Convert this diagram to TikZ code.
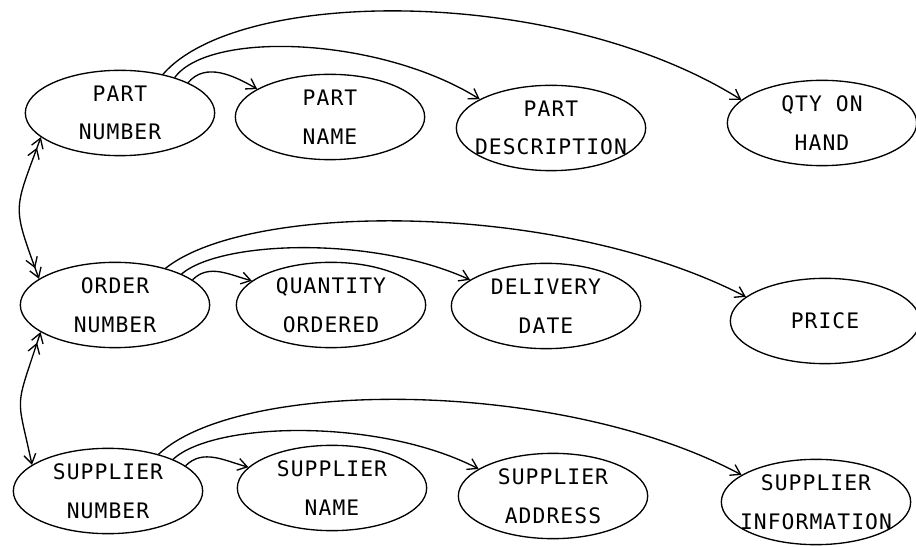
\documentclass[tikz,border=0pt]{standalone}
\usepackage{fontspec}
\newfontfamily\typefont[LetterSpace=5]{DejaVu Sans Mono}
\usetikzlibrary{arrows.meta,shapes.geometric}

\begin{document}
\begin{tikzpicture}[x=0.75pt,y=0.75pt,>={Straight Barb[length=7pt,width=9pt]},
  attr/.style={ellipse,draw,line width=1pt,minimum width=142pt,minimum height=64pt,inner xsep=-14pt,inner ysep=-6pt,align=center,font=\typefont\fontsize{16}{29}\selectfont},
  link/.style={line width=1pt,->}]
\useasboundingbox (0,0) rectangle (916,546);
% parts
\node[attr] (pnum) at (120,433) {PART\\NUMBER};
\node[attr] (pname) at (330,429) {PART\\NAME};
\node[attr] (pdesc) at (551,418) {PART\\DESCRIPTION};
\node[attr] (pqty) at (822,423) {QTY ON\\HAND};
% orders
\node[attr] (onum) at (115,241) {ORDER\\NUMBER};
\node[attr] (oqty) at (331,241) {QUANTITY\\ORDERED};
\node[attr] (odate) at (546,240) {DELIVERY\\DATE};
\node[attr] (oprice) at (825,225) {PRICE};
% suppliers
\node[attr] (snum) at (108,55) {SUPPLIER\\NUMBER};
\node[attr] (sname) at (332,58) {SUPPLIER\\NAME};
\node[attr] (saddr) at (553,50) {SUPPLIER\\ADDRESS};
\node[attr] (sinfo) at (816,44) {SUPPLIER\\INFORMATION};
% key -> attributes
\draw[link] (pnum.24) to[out=50,in=150] (pname.159);
\draw[link] (pnum.33) .. controls (210,516) and (380,509) .. (pdesc.158);
\draw[link] (pnum.42) .. controls (240,560) and (560,560) .. (pqty.164);
\draw[link] (onum.18) to[out=45,in=165] (oqty.163);
\draw[link] (onum.25) .. controls (222,306) and (374,310) .. (odate.161);
\draw[link] (onum.36) .. controls (250,345) and (560,345) .. (oprice.163);
\draw[link] (snum.18) to[out=45,in=165] (sname.166);
\draw[link] (snum.26) .. controls (215,125) and (380,128) .. (saddr.160);
\draw[link] (snum.36) .. controls (240,168) and (560,168) .. (sinfo.160);
% key <-> key
\draw[line width=1pt,<<->>] (pnum.197) .. controls +(250:80) and +(110:80) .. (onum.161);
\draw[line width=1pt,<<->] (onum.200) .. controls +(252:85) and +(102:75) .. (snum.161);
\end{tikzpicture}
\end{document}
